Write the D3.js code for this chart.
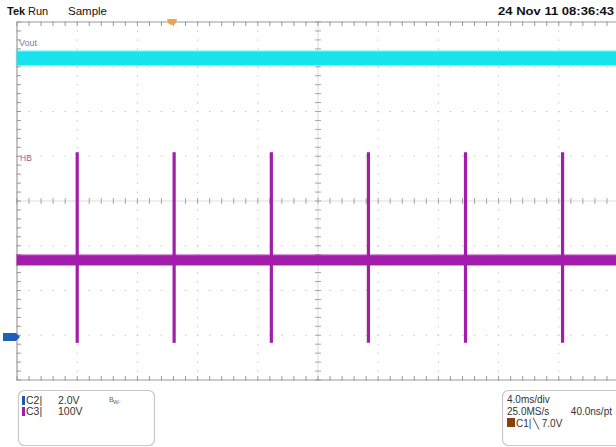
<!DOCTYPE html>
<html><head><meta charset="utf-8">
<script src="https://cdn.jsdelivr.net/npm/d3@7"></script>
<style>
html,body{margin:0;padding:0;background:#fff;}
svg{display:block;font-family:"Liberation Sans",Arial,sans-serif;}
</style></head><body>
<svg id="c" width="616" height="447"></svg>
<script>
// ---- data ----
const headerLeft = ["Tek", "Run", "Sample"];
const headerDate = "24 Nov 11 08:36:43";
const timeDomain = [0, 40];            // ms on screen (10 div x 4.0 ms/div)
const divDomain = [-4, 4];             // vertical divisions
// channel setup: volts/div and ground position (div)
const c2Scale = 2.0, c2Pos = -3.04;    // Vout
const c3Scale = 100, c3Pos = -1.32;    // HB
// Vout envelope (V)
const voutTime = [0, 40];
const voutMin = [12.16, 12.16];
const voutMax = [12.76, 12.76];
// HB baseline envelope (V)
const hbTime = [0, 40];
const hbMin = [-11, -11];
const hbMax = [11, 11];
// HB switching spikes
const spikeTimes = [4.0, 10.44, 16.9, 23.35, 29.8, 36.25];
const spikeHigh = [241, 241, 241, 241, 241, 241];
const spikeLow = [-185, -185, -185, -185, -185, -185];
const triggerTime = 10.3;
const leftInfo = [["C2|", "2.0V"], ["C3|", "100V"]];
const rightInfo = ["4.0ms/div", "25.0MS/s", "40.0ns/pt", "C1|", "\u2572 7.0V"];

// ---- scales ----
const svg = d3.select("#c");
const x = d3.scaleLinear().domain(timeDomain).range([17, 619]);
const yDiv = d3.scaleLinear().domain(divDomain).range([380, 22]);
const y2 = v => yDiv(v / c2Scale + c2Pos);
const y3 = v => yDiv(v / c3Scale + c3Pos);

const gridCol = "#c4c4c4";
const g = svg.append("g");
// dotted graticule
const majX = d3.range(0, 11).map(i => i * 4);
const majY = d3.range(-4, 5);
const minX = d3.range(0, 51).map(i => i * 0.8);
const minY = d3.range(0, 41).map(i => -4 + i * 0.2);
majX.forEach(t => {
  g.selectAll(null).data(minY).enter().append("rect")
    .attr("x", x(t) - 0.5).attr("y", d => yDiv(d) - 0.5).attr("width", 1).attr("height", 1.4)
    .attr("fill", gridCol);
});
majY.forEach(dv => {
  g.selectAll(null).data(minX).enter().append("rect")
    .attr("x", d => x(d) - 0.7).attr("y", yDiv(dv) - 0.5).attr("width", 1.4).attr("height", 1)
    .attr("fill", gridCol);
});
// center cross with ticks
const axCol = "#a8a8a8";
g.append("line").attr("x1", x(0)).attr("x2", x(40)).attr("y1", yDiv(0)).attr("y2", yDiv(0))
  .attr("stroke", "#dcdcdc").attr("stroke-width", 1);
g.append("line").attr("x1", x(20)).attr("x2", x(20)).attr("y1", yDiv(-4)).attr("y2", yDiv(4))
  .attr("stroke", "#dcdcdc").attr("stroke-width", 1);
g.selectAll(null).data(minX).enter().append("line")
  .attr("x1", d => x(d)).attr("x2", d => x(d)).attr("y1", yDiv(0) - 3).attr("y2", yDiv(0) + 3)
  .attr("stroke", axCol).attr("stroke-width", 1);
g.selectAll(null).data(minY).enter().append("line")
  .attr("x1", x(20) - 3).attr("x2", x(20) + 3).attr("y1", d => yDiv(d)).attr("y2", d => yDiv(d))
  .attr("stroke", axCol).attr("stroke-width", 1);
// edges
const edgeCol = "#9a9a9a";
g.append("line").attr("x1", x(0)).attr("x2", x(40)).attr("y1", yDiv(4)).attr("y2", yDiv(4)).attr("stroke", edgeCol);
g.append("line").attr("x1", x(0)).attr("x2", x(40)).attr("y1", yDiv(-4)).attr("y2", yDiv(-4)).attr("stroke", edgeCol);
g.append("line").attr("x1", x(0)).attr("x2", x(0)).attr("y1", yDiv(4)).attr("y2", yDiv(-4)).attr("stroke", "#8a8a8a");
g.selectAll(null).data(minX).enter().append("line")
  .attr("x1", d => x(d)).attr("x2", d => x(d)).attr("y1", yDiv(4)).attr("y2", yDiv(4) + 4)
  .attr("stroke", edgeCol);
g.selectAll(null).data(minX).enter().append("line")
  .attr("x1", d => x(d)).attr("x2", d => x(d)).attr("y1", yDiv(-4)).attr("y2", yDiv(-4) - 4)
  .attr("stroke", edgeCol);
g.selectAll(null).data(minY).enter().append("line")
  .attr("x1", x(0)).attr("x2", x(0) + 4).attr("y1", d => yDiv(d)).attr("y2", d => yDiv(d))
  .attr("stroke", edgeCol);

// ---- traces ----
const cyan = "#16e3eb", purple = "#a11daa";
const voutData = voutTime.map((t, i) => ({t, lo: voutMin[i], hi: voutMax[i]}));
const area2 = d3.area().x(d => x(d.t)).y0(d => y2(d.lo)).y1(d => y2(d.hi));
svg.append("path").datum(voutData).attr("d", area2).attr("fill", cyan)
  .attr("stroke", cyan).attr("stroke-opacity", 0.45).attr("stroke-width", 2.5);
const hbData = hbTime.map((t, i) => ({t, lo: hbMin[i], hi: hbMax[i]}));
const area3 = d3.area().x(d => x(d.t)).y0(d => y3(d.lo)).y1(d => y3(d.hi));
svg.append("path").datum(hbData).attr("d", area3).attr("fill", purple)
  .attr("stroke", purple).attr("stroke-opacity", 0.45).attr("stroke-width", 2.2);
svg.selectAll(null).data(spikeTimes).enter().append("line")
  .attr("x1", d => x(d)).attr("x2", d => x(d))
  .attr("y1", (d, i) => y3(spikeHigh[i])).attr("y2", (d, i) => y3(spikeLow[i]))
  .attr("stroke", purple).attr("stroke-width", 3.2);

// labels on graticule
svg.append("text").attr("x", 19).attr("y", 46).attr("font-size", 9).attr("fill", "#6f7fb8").text("Vout");
svg.append("text").attr("x", 20).attr("y", 161).attr("font-size", 8.5).attr("fill", "#9b5fa0").text("HB");

// trigger position marker
svg.append("path")
  .attr("d", `M${x(triggerTime) - 5},${yDiv(4) - 3} L${x(triggerTime) + 5},${yDiv(4) - 3} L${x(triggerTime) + 4},${yDiv(4) + 1} Q${x(triggerTime)},${yDiv(4) + 5} ${x(triggerTime) - 4},${yDiv(4) + 1} Z`)
  .attr("fill", "#ee9b45").attr("opacity", 0.9);

// ground marker C2
const gy = y2(0);
svg.append("path").attr("d", `M3,${gy - 4} L16,${gy - 4} L20,${gy} L16,${gy + 4} L3,${gy + 4} Z`).attr("fill", "#1f5fb8");

// header
svg.append("text").attr("x", 7).attr("y", 15).attr("font-size", 11).attr("font-weight", "bold").attr("fill", "#111").text(headerLeft[0]);
svg.append("text").attr("x", 28).attr("y", 15).attr("font-size", 11).attr("fill", "#111").text(headerLeft[1]);
svg.append("text").attr("x", 68).attr("y", 15).attr("font-size", 11.5).attr("fill", "#111").text(headerLeft[2]);
svg.append("text").attr("x", 498).attr("y", 15).attr("font-size", 11).attr("font-weight", "bold").attr("fill", "#111")
  .attr("textLength", 116).attr("lengthAdjust", "spacingAndGlyphs").text(headerDate);

// bottom info boxes
svg.append("rect").attr("x", 18.5).attr("y", 390.5).attr("width", 136).attr("height", 55).attr("rx", 6)
  .attr("fill", "#fff").attr("stroke", "#c8c8cc").attr("stroke-width", 1.2);
svg.append("rect").attr("x", 502.5).attr("y", 390.5).attr("width", 130).attr("height", 55).attr("rx", 6)
  .attr("fill", "#fff").attr("stroke", "#c8c8cc").attr("stroke-width", 1.2);
const chCols = ["#1f5aa8", purple];
leftInfo.forEach((r, i) => {
  const by = 404 + i * 11;
  svg.append("rect").attr("x", 22).attr("y", by - 8).attr("width", 3).attr("height", 9).attr("fill", chCols[i]);
  svg.append("text").attr("x", 26).attr("y", by).attr("font-size", 10.5).attr("fill", "#333").text(r[0]);
  svg.append("text").attr("x", 58).attr("y", by).attr("font-size", 10.5).attr("fill", "#333").text(r[1]);
});
svg.append("text").attr("x", 109).attr("y", 402).attr("font-size", 7).attr("fill", "#666").text("B");
svg.append("text").attr("x", 113).attr("y", 404).attr("font-size", 6).attr("fill", "#666").text("W-");

svg.append("text").attr("x", 507).attr("y", 403).attr("font-size", 10).attr("fill", "#333").text(rightInfo[0]);
svg.append("text").attr("x", 507).attr("y", 415).attr("font-size", 10).attr("fill", "#333").text(rightInfo[1]);
svg.append("text").attr("x", 612).attr("y", 415).attr("font-size", 10).attr("text-anchor", "end").attr("fill", "#333").text(rightInfo[2]);
svg.append("rect").attr("x", 507).attr("y", 418).attr("width", 8).attr("height", 9).attr("fill", "#8a3f10");
svg.append("text").attr("x", 516).attr("y", 427).attr("font-size", 10).attr("fill", "#333").text(rightInfo[3]);
svg.append("text").attr("x", 533).attr("y", 427).attr("font-size", 10).attr("fill", "#333").text(rightInfo[4]);
</script>
</body></html>
